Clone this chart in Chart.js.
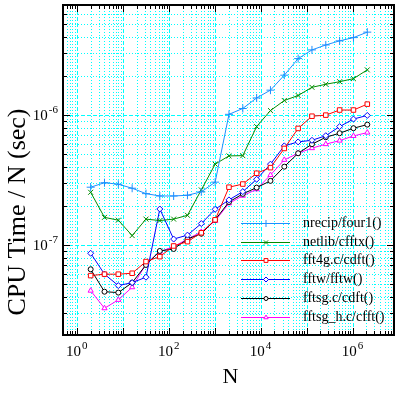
<!DOCTYPE html>
<html>
<head>
<meta charset="utf-8">
<script src="https://cdn.jsdelivr.net/npm/chart.js@4.4.1/dist/chart.umd.min.js"></script>
<style>
html, body { margin: 0; padding: 0; background: #fff; }
#wrap { width: 399px; height: 394px; }
</style>
</head>
<body>
<div id="wrap"><canvas id="fftChart" width="399" height="394"></canvas></div>
<script>
// transform sizes N = 2^1 .. 2^21
var sizes = [2, 4, 8, 16, 32, 64, 128, 256, 512, 1024, 2048, 4096, 8192, 16384,
    32768, 65536, 131072, 262144, 524288, 1048576, 2097152];

// CPU time / N (sec)
var nrecip = [2.78e-7, 3.01e-7, 2.93e-7, 2.73e-7, 2.48e-7, 2.38e-7, 2.38e-7, 2.41e-7, 2.56e-7, 3.04e-7,
    1.01e-6, 1.12e-6, 1.35e-6, 1.55e-6, 2.02e-6, 2.71e-6, 3.16e-6, 3.45e-6, 3.71e-6, 3.93e-6, 4.33e-6];
var netlib = [2.54e-7, 1.63e-7, 1.55e-7, 1.18e-7, 1.58e-7, 1.54e-7, 1.58e-7, 1.69e-7, 2.65e-7, 4.18e-7,
    4.84e-7, 4.86e-7, 8.13e-7, 1.08e-6, 1.29e-6, 1.41e-6, 1.63e-6, 1.72e-6, 1.80e-6, 1.90e-6, 2.22e-6];
var fft4g = [5.81e-8, 5.96e-8, 5.96e-8, 6.06e-8, 7.45e-8, 8.13e-8, 9.82e-8, 1.06e-7, 1.24e-7, 1.56e-7,
    2.78e-7, 2.94e-7, 3.56e-7, 3.93e-7, 5.52e-7, 7.87e-7, 9.77e-7, 9.96e-7, 1.09e-6, 1.09e-6, 1.21e-6];
var fftw = [8.63e-8, 5.96e-8, 4.87e-8, 5.13e-8, 5.65e-8, 1.89e-7, 1.11e-7, 1.19e-7, 1.46e-7, 1.88e-7,
    2.22e-7, 2.57e-7, 3.20e-7, 4.18e-7, 5.78e-7, 6.20e-7, 6.38e-7, 6.92e-7, 8.13e-7, 9.29e-7, 9.91e-7];
var fftsg = [6.50e-8, 4.37e-8, 4.30e-8, 5.13e-8, 7.02e-8, 8.99e-8, 9.31e-8, 1.11e-7, 1.22e-7, 1.56e-7,
    2.14e-7, 2.47e-7, 2.76e-7, 3.11e-7, 4.00e-7, 5.07e-7, 5.95e-7, 6.73e-7, 7.23e-7, 7.90e-7, 8.42e-7];
var fftsgH = [4.45e-8, 3.26e-8, 3.78e-8, 4.73e-8, 7.14e-8, 8.88e-8, 9.70e-8, 1.11e-7, 1.26e-7, 1.53e-7,
    2.09e-7, 2.39e-7, 2.68e-7, 3.45e-7, 4.51e-7, 5.07e-7, 5.55e-7, 5.96e-7, 6.34e-7, 6.89e-7, 7.31e-7];

var seriesNames = ["nrecip/four1()", "netlib/cfftx()", "fft4g.c/cdft()", "fftw/fftw()",
    "fftsg.c/cdft()", "fftsg_h.c/cfft()"];
var xTickExps = [0, 2, 4, 6];
var yTickExps = [-6, -7];

var SERIF = '"Liberation Serif", "DejaVu Serif", serif';

function pairs(values) {
    var out = [];
    for (var i = 0; i < sizes.length; i++) {
        out.push({x: sizes[i], y: values[i]});
    }
    return out;
}

function series(label, values, color, style, radius) {
    return {
        label: label,
        data: pairs(values),
        borderColor: color,
        borderWidth: 1,
        pointStyle: style,
        pointRadius: radius,
        pointBorderColor: color,
        pointBackgroundColor: "#ffffff",
        pointBorderWidth: 1,
        fill: false,
        tension: 0
    };
}

// 10^n label with a raised exponent
function powLabel(ctx, exp, x, y, align) {
    var sup = String(exp);
    ctx.font = "15px " + SERIF;
    var w1 = ctx.measureText("10").width;
    ctx.font = "11px " + SERIF;
    var w2 = ctx.measureText(sup).width;
    var total = w1 + w2 + 1;
    var start = align == "right" ? x - total : x - total / 2;
    ctx.textAlign = "left";
    ctx.textBaseline = "alphabetic";
    ctx.font = "15px " + SERIF;
    ctx.fillText("10", start, y);
    ctx.font = "11px " + SERIF;
    ctx.fillText(sup, start + w1 + 1, y - 7);
}

var framePlugin = {
    id: "frame",
    beforeDatasetsDraw: function(chart) {
        var ctx = chart.ctx, a = chart.chartArea;
        var xs = chart.scales.x, ys = chart.scales.y;
        ctx.save();
        ctx.beginPath();
        ctx.rect(a.left, a.top, a.right - a.left, a.bottom - a.top);
        ctx.clip();
        ctx.strokeStyle = "#00ffff";
        ctx.lineWidth = 1;
        for (var d = -1; d <= 7; d++) {
            for (var m = 1; m <= 9; m++) {
                var v = m * Math.pow(10, d);
                if (v <= xs.min || v >= xs.max) continue;
                var px = Math.round(xs.getPixelForValue(v)) + 0.5;
                ctx.setLineDash(m == 1 ? [4, 2] : [1, 2]);
                ctx.beginPath();
                ctx.moveTo(px, a.top);
                ctx.lineTo(px, a.bottom);
                ctx.stroke();
            }
        }
        for (var e = -9; e <= -5; e++) {
            for (var k = 1; k <= 9; k++) {
                var w = k * Math.pow(10, e);
                if (w <= ys.min || w >= ys.max) continue;
                var py = Math.round(ys.getPixelForValue(w)) + 0.5;
                ctx.setLineDash(k == 1 ? [4, 2] : [1, 2]);
                ctx.beginPath();
                ctx.moveTo(a.left, py);
                ctx.lineTo(a.right, py);
                ctx.stroke();
            }
        }
        ctx.restore();
    },
    afterDatasetsDraw: function(chart) {
        var ctx = chart.ctx, a = chart.chartArea;
        var xs = chart.scales.x, ys = chart.scales.y;
        ctx.save();
        ctx.setLineDash([]);
        ctx.strokeStyle = "#000000";
        ctx.fillStyle = "#000000";

        // inward tick marks on all four sides
        ctx.lineWidth = 1;
        for (var d = -1; d <= 7; d++) {
            for (var m = 1; m <= 9; m++) {
                var v = m * Math.pow(10, d);
                if (v <= xs.min || v >= xs.max) continue;
                var px = Math.round(xs.getPixelForValue(v)) + 0.5;
                var len = m == 1 ? 7 : 4;
                ctx.beginPath();
                ctx.moveTo(px, a.bottom); ctx.lineTo(px, a.bottom - len);
                ctx.moveTo(px, a.top); ctx.lineTo(px, a.top + len);
                ctx.stroke();
            }
        }
        for (var e = -9; e <= -5; e++) {
            for (var k = 1; k <= 9; k++) {
                var w = k * Math.pow(10, e);
                if (w <= ys.min || w >= ys.max) continue;
                var py = Math.round(ys.getPixelForValue(w)) + 0.5;
                var len2 = k == 1 ? 7 : 4;
                ctx.beginPath();
                ctx.moveTo(a.left, py); ctx.lineTo(a.left + len2, py);
                ctx.moveTo(a.right, py); ctx.lineTo(a.right - len2, py);
                ctx.stroke();
            }
        }

        ctx.lineWidth = 2;
        ctx.strokeRect(a.left, a.top, a.right - a.left, a.bottom - a.top);

        // tick labels
        xTickExps.forEach(function(p) {
            powLabel(ctx, p, xs.getPixelForValue(Math.pow(10, p)), 356, "center");
        });
        yTickExps.forEach(function(p) {
            powLabel(ctx, p, 58, ys.getPixelForValue(Math.pow(10, p)) + 5, "right");
        });

        // axis titles
        ctx.textAlign = "center";
        ctx.textBaseline = "middle";
        ctx.font = "22px " + SERIF;
        ctx.fillText("N", (a.left + a.right) / 2 + 2, 377);
        ctx.save();
        ctx.translate(18, 212);
        ctx.rotate(-Math.PI / 2);
        ctx.font = "26px " + SERIF;
        ctx.fillText("CPU Time / N (sec)", 0, 0);
        ctx.restore();

        // legend inside the plot
        chart.data.datasets.forEach(function(ds, i) {
            var ly = Math.round(223 + i * 18.7) + 0.5;
            ctx.strokeStyle = ds.borderColor;
            ctx.lineWidth = 1;
            ctx.beginPath();
            ctx.moveTo(241, ly);
            ctx.lineTo(290, ly);
            ctx.stroke();
            ctx.fillStyle = "#ffffff";
            Chart.helpers.drawPoint(ctx, {pointStyle: ds.pointStyle, radius: ds.pointRadius - 0.5, borderWidth: 1, rotation: 0}, 266, ly);
            ctx.fillStyle = "#000000";
            ctx.font = "14px " + SERIF;
            ctx.textAlign = "left";
            ctx.textBaseline = "middle";
            ctx.fillText(ds.label, 303, ly);
        });
        ctx.restore();
    }
};

var chart = new Chart(document.getElementById("fftChart"), {
    type: "line",
    data: {
        datasets: [
            series(seriesNames[0], nrecip, "#1e8fff", "cross", 4),
            series(seriesNames[1], netlib, "#008c00", "crossRot", 3.5),
            series(seriesNames[2], fft4g, "#ff0000", "rect", 3.2),
            series(seriesNames[3], fftw, "#0000ff", "rectRot", 3),
            series(seriesNames[4], fftsg, "#000000", "circle", 2.5),
            series(seriesNames[5], fftsgH, "#ff00ff", "triangle", 3)
        ]
    },
    options: {
        responsive: false,
        animation: false,
        layout: { padding: { left: 63, right: 4, top: 5, bottom: 59 } },
        plugins: {
            legend: { display: false },
            tooltip: { enabled: false }
        },
        scales: {
            x: {
                type: "logarithmic",
                min: 0.5,
                max: 8e6,
                grid: { display: false },
                border: { display: false },
                ticks: { display: false },
                afterFit: function(s) { s.height = 0; }
            },
            y: {
                type: "logarithmic",
                min: 2.03e-8,
                max: 7e-6,
                grid: { display: false },
                border: { display: false },
                ticks: { display: false },
                afterFit: function(s) { s.width = 0; }
            }
        }
    },
    plugins: [framePlugin]
});
</script>
</body>
</html>
